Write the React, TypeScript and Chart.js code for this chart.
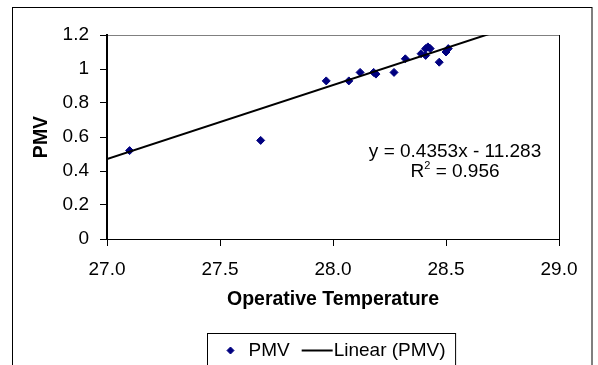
import React, { useEffect, useRef } from 'react';
import { Chart, registerables } from 'chart.js';

Chart.register(...registerables);

// ---- data ----
const seriesLabel = 'PMV';
const trendLabel = 'Linear (PMV)';
const xTitle = 'Operative Temperature';
const yTitle = 'PMV';

const operativeTemp = [27.10, 27.68, 27.97, 28.07, 28.12, 28.18, 28.19, 28.27, 28.32, 28.39, 28.41, 28.41, 28.42, 28.43, 28.47, 28.50, 28.51];
const pmvValues = [0.52, 0.58, 0.93, 0.93, 0.98, 0.98, 0.97, 0.98, 1.06, 1.09, 1.12, 1.08, 1.13, 1.12, 1.04, 1.10, 1.12];

const xTicks = [27.0, 27.5, 28.0, 28.5, 29.0];
const xTickLabels = ['27.0', '27.5', '28.0', '28.5', '29.0'];
const yTicks = [0, 0.2, 0.4, 0.6, 0.8, 1, 1.2];
const yTickLabels = ['0', '0.2', '0.4', '0.6', '0.8', '1', '1.2'];

const trendSlope = 0.4353;
const trendIntercept = -11.283;
const trendR2 = '0.956';
// where the equation label sits (data coordinates of its first baseline centre)
const eqAnchorX = 28.54;
const eqAnchorY = 0.482;

const FONT = '"Liberation Sans", Arial, sans-serif';
const MARKER = '#000080';

const decorPlugin = {
  id: 'decor',
  beforeDraw(chart: any) {
    const { ctx, chartArea: a } = chart;
    ctx.save();
    ctx.fillStyle = '#fff';
    ctx.fillRect(0, 0, chart.width, chart.height);
    // outer chart border
    ctx.strokeStyle = '#000';
    ctx.lineWidth = 1;
    ctx.strokeRect(12.5, 7.5, chart.width - 18.5, chart.height + 40);
    // plot area border (top grey, right dark)
    ctx.strokeStyle = '#808080';
    ctx.beginPath();
    ctx.moveTo(a.left, a.top + 0.5);
    ctx.lineTo(a.right, a.top + 0.5);
    ctx.stroke();
    ctx.strokeStyle = '#000';
    ctx.beginPath();
    ctx.moveTo(a.right + 0.5, a.top);
    ctx.lineTo(a.right + 0.5, a.bottom);
    ctx.stroke();
    ctx.restore();
  },
  afterDraw(chart: any) {
    const { ctx, chartArea: a, scales } = chart;
    ctx.save();
    ctx.fillStyle = '#000';
    // trendline equation
    const cx = scales.x.getPixelForValue(eqAnchorX);
    const by = scales.y.getPixelForValue(eqAnchorY);
    ctx.font = `19px ${FONT}`;
    ctx.textBaseline = 'alphabetic';
    ctx.textAlign = 'center';
    const sign = trendIntercept < 0 ? '-' : '+';
    ctx.fillText(`y = ${trendSlope}x ${sign} ${Math.abs(trendIntercept)}`, cx, by);
    // R² line
    ctx.textAlign = 'left';
    const wR = ctx.measureText('R').width;
    const rest = ` = ${trendR2}`;
    const wRest = ctx.measureText(rest).width;
    ctx.font = `11px ${FONT}`;
    const w2 = ctx.measureText('2').width;
    const total = wR + w2 + wRest;
    let x = cx - total / 2;
    const by2 = by + 20;
    ctx.font = `19px ${FONT}`;
    ctx.fillText('R', x, by2);
    x += wR;
    ctx.font = `11px ${FONT}`;
    ctx.fillText('2', x, by2 - 8.5);
    x += w2;
    ctx.font = `19px ${FONT}`;
    ctx.fillText(rest, x, by2);

    // legend
    const ds = chart.data.datasets;
    const scatterDs = ds.find((d: any) => d.pointStyle === 'rectRot');
    const lineDs = ds.find((d: any) => d.showLine);
    ctx.font = `19px ${FONT}`;
    const tw1 = ctx.measureText(scatterDs.label).width;
    const tw2 = ctx.measureText(lineDs.label).width;
    const boxW = 41 + tw1 + 12 + 31 + 1 + tw2 + 10;
    const boxL = Math.round((a.left + a.right) / 2 - boxW / 2) - 1.5;
    const boxT = a.bottom + 94.5;
    const cy = boxT + 17;
    ctx.strokeStyle = '#000';
    ctx.lineWidth = 1;
    ctx.strokeRect(boxL, boxT, boxW, 60);
    // diamond
    const dx = boxL + 23;
    const r = 3.5;
    ctx.fillStyle = MARKER;
    ctx.strokeStyle = MARKER;
    ctx.beginPath();
    ctx.moveTo(dx - r, cy);
    ctx.lineTo(dx, cy - r);
    ctx.lineTo(dx + r, cy);
    ctx.lineTo(dx, cy + r);
    ctx.closePath();
    ctx.fill();
    ctx.stroke();
    ctx.fillStyle = '#000';
    ctx.textAlign = 'left';
    ctx.textBaseline = 'middle';
    const t1x = boxL + 41;
    ctx.fillText(scatterDs.label, t1x, cy);
    const lx1 = t1x + tw1 + 12;
    const lx2 = lx1 + 31;
    ctx.strokeStyle = '#000';
    ctx.lineWidth = 2;
    ctx.beginPath();
    ctx.moveTo(lx1, cy);
    ctx.lineTo(lx2, cy);
    ctx.stroke();
    ctx.fillText(lineDs.label, lx2 + 1, cy);
    ctx.restore();
  },
};

export default function App() {
  const ref = useRef<HTMLCanvasElement>(null);

  useEffect(() => {
    const canvas = ref.current;
    if (!canvas) return;
    const points = operativeTemp.map((t, i) => ({ x: t, y: pmvValues[i] }));
    const xMin = xTicks[0];
    const xMax = xTicks[xTicks.length - 1];
    const trendPoints = [xMin, xMax].map((t) => ({ x: t, y: trendSlope * t + trendIntercept }));

    const tickFont = { family: FONT, size: 19 };
    const titleFont = { family: FONT, size: 19.5, weight: 'bold' as const };

    const chart = new Chart(canvas, {
      type: 'scatter',
      data: {
        datasets: [
          {
            label: trendLabel,
            data: trendPoints,
            showLine: true,
            borderColor: '#000',
            backgroundColor: '#000',
            borderWidth: 2,
            pointRadius: 0,
            fill: false,
            order: 0,
            clip: 0,
          } as any,
          {
            label: seriesLabel,
            data: points,
            pointStyle: 'rectRot',
            pointRadius: 4,
            backgroundColor: MARKER,
            borderColor: MARKER,
            borderWidth: 1,
            order: 1,
          } as any,
        ],
      },
      options: {
        responsive: false,
        animation: false,
        events: [],
        layout: { padding: { left: 0, top: 35, right: 39, bottom: 51 } },
        plugins: {
          legend: { display: false },
          tooltip: { enabled: false },
        },
        scales: {
          x: {
            type: 'linear',
            min: xMin,
            max: xMax,
            afterBuildTicks: (s: any) => {
              s.ticks = xTicks.map((v) => ({ value: v }));
            },
            afterFit: (s: any) => {
              s.height = 75;
            },
            ticks: {
              callback: (_v: any, i: number) => xTickLabels[i],
              padding: 12,
              font: tickFont,
              color: '#000',
              maxRotation: 0,
              autoSkip: false,
            },
            grid: { display: true, drawOnChartArea: false, drawTicks: true, tickLength: 7, color: '#000' },
            border: { display: true, color: '#000', width: 1 },
            title: { display: true, text: xTitle, font: titleFont, color: '#000', padding: { top: 0, bottom: 3 } },
          },
          y: {
            type: 'linear',
            min: yTicks[0],
            max: yTicks[yTicks.length - 1],
            afterBuildTicks: (s: any) => {
              s.ticks = yTicks.map((v) => ({ value: v }));
            },
            afterFit: (s: any) => {
              s.width = 107;
            },
            ticks: {
              callback: (_v: any, i: number) => yTickLabels[i],
              padding: 11,
              font: tickFont,
              color: '#000',
              autoSkip: false,
            },
            grid: { display: true, drawOnChartArea: false, drawTicks: true, tickLength: 7, color: '#000' },
            border: { display: true, color: '#000', width: 2 },
            title: { display: true, text: yTitle, font: titleFont, color: '#000', padding: { top: 30, bottom: 0 } },
          },
        },
      },
      plugins: [decorPlugin],
    });
    return () => chart.destroy();
  }, []);

  return (
    <div style={{ position: 'absolute', left: 0, top: 0, width: 598, height: 365, background: '#fff' }}>
      <canvas ref={ref} width={598} height={365} style={{ display: 'block' }} />
    </div>
  );
}
